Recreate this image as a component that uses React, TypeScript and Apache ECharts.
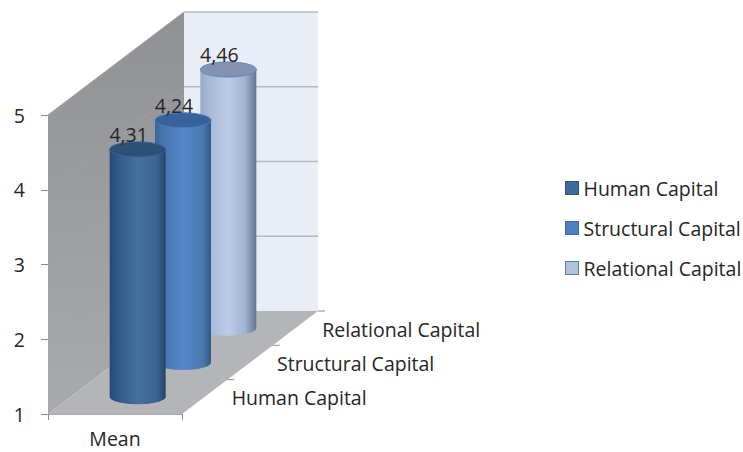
import React, { useEffect, useRef } from "react";
import * as echarts from "echarts";

const categories = ["Mean"];
const depthCategories = ["Human Capital", "Structural Capital", "Relational Capital"];
const humanValues = [4.31];
const structuralValues = [4.24];
const relationalValues = [4.46];
const yMin = 1;
const yMax = 5;
const yTicks = [1, 2, 3, 4, 5];

const FONT = "Open Sans";
const FS = 19.5;
const TEXT = "#262626";
const DX = 136;
const DY = -103;
const RX = 28;
const RY = 7.5;

const grad = (stops: [number, string][]) =>
  new echarts.graphic.LinearGradient(0, 0, 1, 0, stops.map(([offset, color]) => ({ offset, color })));

const frame = (api: any) => {
  const [cx] = api.coord([0, yMin]);
  const w = api.size([1, 0])[0];
  return { left: cx - w / 2, right: cx + w / 2 };
};

const renderWalls = (_p: any, api: any) => {
  const { left, right } = frame(api);
  const y0 = api.coord([0, yMin])[1];
  const yT = api.coord([0, yMax])[1];
  const children: any[] = [];
  children.push({
    type: "polygon",
    shape: { points: [[left, yT], [left + DX, yT + DY], [left + DX, y0 + DY], [left, y0]] },
    style: {
      fill: new echarts.graphic.LinearGradient(0, 0, 0, 1, [
        { offset: 0, color: "#8f9194" },
        { offset: 1, color: "#a9aaac" },
      ]),
    },
  });
  children.push({
    type: "rect",
    shape: { x: left + DX, y: yT + DY, width: right - left, height: y0 - yT },
    style: { fill: "#e9edf6" },
  });
  children.push({
    type: "polygon",
    shape: { points: [[left, y0], [left + DX, y0 + DY], [right + DX, y0 + DY], [right, y0]] },
    style: { fill: "#b3b5b8" },
  });
  yTicks.forEach((t) => {
    const y = api.coord([0, t])[1];
    if (t !== yMin) {
      children.push({
        type: "line",
        shape: { x1: left, y1: y, x2: left + DX, y2: y + DY },
        style: { stroke: "#a0a1a3", lineWidth: 1 },
      });
      children.push({
        type: "line",
        shape: { x1: left + DX, y1: y + DY, x2: right + DX, y2: y + DY },
        style: { stroke: "#b6bac2", lineWidth: 1.3 },
      });
    }
  });
  depthCategories.forEach((name, i) => {
    const a = i / 3;
    const b = (i + 1) / 3;
    const px = right + DX * b;
    const py = y0 + DY * b;
    children.push({
      type: "line",
      shape: { x1: px, y1: py, x2: px + 7, y2: py },
      style: { stroke: "#8c8c8c", lineWidth: 1 },
    });
    const mx = right + DX * ((a + b) / 2);
    const my = y0 + DY * ((a + b) / 2);
    children.push({
      type: "text",
      style: {
        text: name,
        x: mx + 27,
        y: my + 1,
        fontSize: FS,
        fontFamily: FONT,
        fill: TEXT,
        align: "left",
        verticalAlign: "middle",
      },
    });
  });
  return { type: "group", children };
};

const cylinder = (depthIndex: number, body: any, cap: string, edge: string) => (_p: any, api: any) => {
  const value = api.value(1);
  const f = (depthIndex + 0.5) / 3;
  const base = api.coord([0, yMin]);
  const top = api.coord([0, value]);
  const cx = base[0] + DX * f;
  const by = base[1] + DY * f;
  const ty = top[1] + DY * f;
  return {
    type: "group",
    children: [
      { type: "ellipse", shape: { cx, cy: by, rx: RX, ry: RY }, style: { fill: body } },
      { type: "rect", shape: { x: cx - RX, y: ty, width: RX * 2, height: by - ty }, style: { fill: body } },
      { type: "ellipse", shape: { cx, cy: ty, rx: RX, ry: RY }, style: { fill: cap, stroke: edge, lineWidth: 1 } },
      {
        type: "text",
        style: {
          text: String(value).replace(".", ","),
          x: cx - 9,
          y: ty - 15,
          fontSize: FS,
          fontFamily: FONT,
          fill: TEXT,
          align: "center",
          verticalAlign: "middle",
        },
      },
    ],
  };
};

export default function App() {
  const ref = useRef<HTMLDivElement>(null);
  useEffect(() => {
    document.body.style.margin = "0";
    document.body.style.background = "#ffffff";
    const chart = echarts.init(ref.current!, undefined, { renderer: "svg" });
    const textStyle = { fontFamily: FONT, fontSize: FS, color: TEXT };
    const swatch = (name: string, color: string, borderColor: string) => ({
      name,
      icon: "rect",
      itemStyle: { color, borderColor, borderWidth: 1 },
    });
    chart.setOption({
      animation: false,
      backgroundColor: "#ffffff",
      grid: { left: 48, top: 115, width: 134, height: 299, outerBoundsMode: "none" },
      xAxis: {
        type: "category",
        data: categories,
        axisLine: { show: true, lineStyle: { color: "#a8a9ab", width: 1 } },
        axisTick: { show: true, length: 6, lineStyle: { color: "#8c8c8c" } },
        axisLabel: { ...textStyle, margin: 14, interval: 0 },
        splitLine: { show: false },
      },
      yAxis: {
        type: "value",
        min: yMin,
        max: yMax,
        interval: 1,
        axisLine: { show: true, lineStyle: { color: "#a8a9ab", width: 1 } },
        axisTick: { show: true, length: 7, lineStyle: { color: "#8c8c8c" } },
        axisLabel: { ...textStyle, margin: 23 },
        splitLine: { show: false },
      },
      legend: {
        orient: "vertical",
        left: 565,
        top: 176,
        padding: 0,
        itemWidth: 13,
        itemHeight: 13,
        itemGap: 16,
        textStyle: { ...textStyle, lineHeight: 24 },
        selectedMode: false,
        data: [
          swatch(depthCategories[0], "#3f6a9e", "#2b5283"),
          swatch(depthCategories[1], "#4f81bd", "#3a6596"),
          swatch(depthCategories[2], "#b3c2de", "#5f7ba3"),
        ],
      },
      series: [
        { type: "custom", name: "walls", silent: true, z: 1, data: [[0, yMin]], encode: { x: 0, y: 1 }, renderItem: renderWalls },
        {
          type: "custom",
          name: depthCategories[0],
          silent: true,
          z: 5,
          itemStyle: { color: "#3f6a9e" },
          encode: { x: 0, y: 1 },
          data: humanValues.map((v, i) => [i, v]),
          renderItem: cylinder(
            0,
            grad([[0, "#264a77"], [0.12, "#2f5586"], [0.5, "#44729f"], [0.85, "#3a6290"], [1, "#264468"]]),
            "#2e4f78",
            "#3a6596"
          ),
        },
        {
          type: "custom",
          name: depthCategories[1],
          silent: true,
          z: 4,
          itemStyle: { color: "#4f81bd" },
          encode: { x: 0, y: 1 },
          data: structuralValues.map((v, i) => [i, v]),
          renderItem: cylinder(
            1,
            grad([[0, "#3a6598"], [0.15, "#4676ae"], [0.5, "#5588ca"], [0.85, "#4a78b0"], [1, "#335a85"]]),
            "#37639a",
            "#4f81bd"
          ),
        },
        {
          type: "custom",
          name: depthCategories[2],
          silent: true,
          z: 3,
          itemStyle: { color: "#b3c2de" },
          encode: { x: 0, y: 1 },
          data: relationalValues.map((v, i) => [i, v]),
          renderItem: cylinder(
            2,
            grad([[0, "#98a9c8"], [0.15, "#a8b9d8"], [0.5, "#bbcce8"], [0.8, "#a2b2cf"], [1, "#65768f"]]),
            "#8393ae",
            "#5f88bb"
          ),
        },
      ],
    });
    return () => chart.dispose();
  }, []);
  return <div ref={ref} style={{ position: "fixed", left: 0, top: 0, width: 743, height: 452 }} />;
}
